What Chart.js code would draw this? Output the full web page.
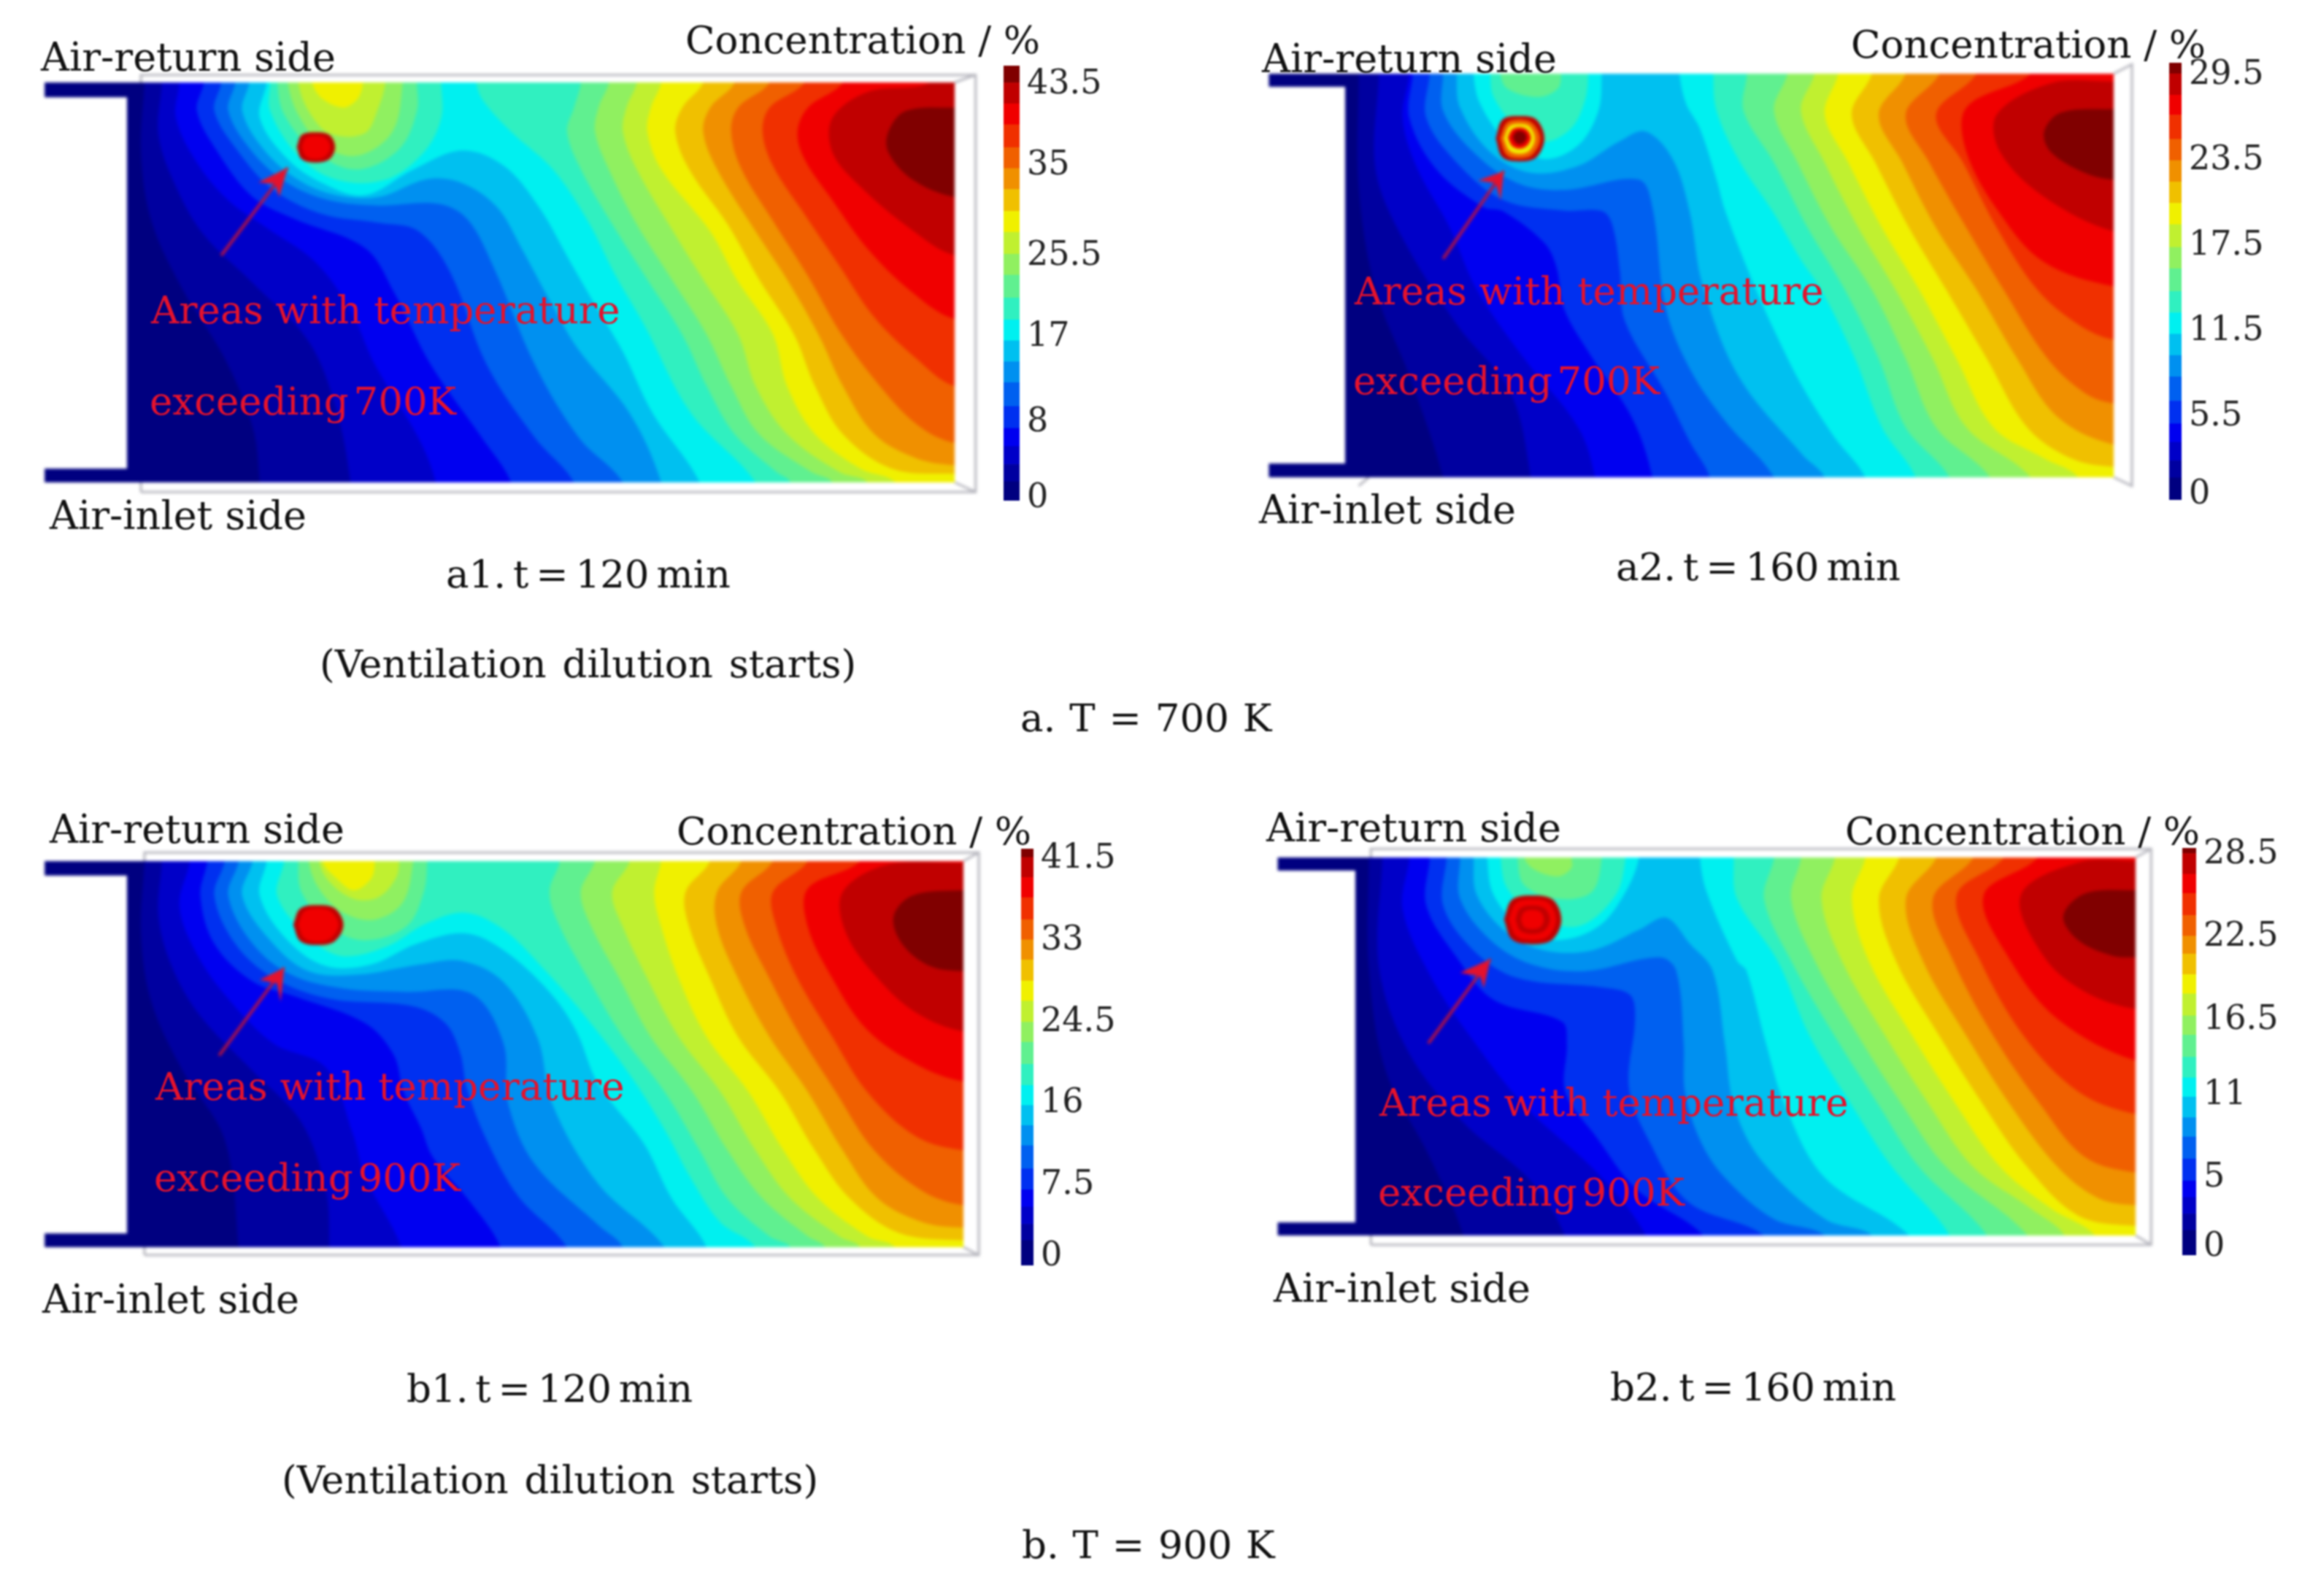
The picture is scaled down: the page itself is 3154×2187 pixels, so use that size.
<!DOCTYPE html>
<html>
<head>
<meta charset="utf-8">
<title>Concentration contours</title>
<script src="https://cdn.jsdelivr.net/npm/chart.js@4"></script>
<style>
    html, body { margin: 0; padding: 0; background: #fff; }
    #page { position: relative; width: 3154px; height: 2187px; overflow: hidden; }
    canvas { position: absolute; filter: blur(2px); }
    .t { position: absolute; transform: translateY(-50%); white-space: nowrap; font-family: "DejaVu Serif", serif; font-size: 54px; color: #111; z-index: 5; filter: blur(0.8px); }
    .r { color: #e4122c; font-size: 53px; }
    .c { font-size: 53px; word-spacing: -7px; }
    .n { font-size: 53px; word-spacing: 5px; }
    .m { font-size: 53px; word-spacing: 2px; }
    .x { word-spacing: -10px; }
    .k { font-size: 53px; }
</style>
</head>
<body>
<div id="page">
    <span class="t" style="left:56px;top:78px">Air-return side</span>
    <span class="t k" style="left:939px;top:54px">Concentration / %</span>
    <span class="t" style="left:68px;top:706px">Air-inlet side</span>
    <span class="t c" style="left:611px;top:786px">a1. t = 120 min</span>
    <span class="t n" style="left:438px;top:909px">(Ventilation dilution starts)</span>
    <span class="t m" style="left:1398px;top:983px">a. T = 700 K</span>
    <span class="t r" style="left:207px;top:424px">Areas with temperature</span>
    <span class="t r x" style="left:205px;top:549px">exceeding 700K</span>

    <span class="t" style="left:1729px;top:80px">Air-return side</span>
    <span class="t k" style="left:2536px;top:60px">Concentration / %</span>
    <span class="t" style="left:1725px;top:698px">Air-inlet side</span>
    <span class="t c" style="left:2214px;top:776px">a2. t = 160 min</span>
    <span class="t r" style="left:1856px;top:398px">Areas with temperature</span>
    <span class="t r x" style="left:1854px;top:521px">exceeding 700K</span>

    <span class="t" style="left:68px;top:1136px">Air-return side</span>
    <span class="t k" style="left:927px;top:1138px">Concentration / %</span>
    <span class="t" style="left:58px;top:1780px">Air-inlet side</span>
    <span class="t c" style="left:557px;top:1902px">b1. t = 120 min</span>
    <span class="t n" style="left:386px;top:2027px">(Ventilation dilution starts)</span>
    <span class="t m" style="left:1400px;top:2116px">b. T = 900 K</span>
    <span class="t r" style="left:213px;top:1488px">Areas with temperature</span>
    <span class="t r x" style="left:211px;top:1613px">exceeding 900K</span>

    <span class="t" style="left:1735px;top:1134px">Air-return side</span>
    <span class="t k" style="left:2528px;top:1138px">Concentration / %</span>
    <span class="t" style="left:1745px;top:1765px">Air-inlet side</span>
    <span class="t c" style="left:2206px;top:1900px">b2. t = 160 min</span>
    <span class="t r" style="left:1890px;top:1510px">Areas with temperature</span>
    <span class="t r x" style="left:1888px;top:1633px">exceeding 900K</span>
</div>
<script>
// colour of each concentration band, low to high
const jetColors = ['#000080','#0000a0','#0000c8','#0000f0','#0030f0','#0060f0','#0090f0','#00c0f0','#00f0f0','#30f0c0',
    '#60f090','#90f060','#c0f030','#f0f000','#f0c000','#f09000','#f06000','#f03000','#f00000','#c00000','#800000'];

// colour bars: band edges and tick labels
const a1Levels = [-0.2,1.8,3.6,5.5,7.4,9.7,12.2,14.4,16.6,18.8,21.1,23.5,25.7,28,30.2,32.5,34.7,36.9,39.3,41.5,43.7,45.5];
const a2Levels = [-0.35,1.2,2.4,3.7,5,6.6,8.3,9.8,11.3,12.8,14.3,15.9,17.4,19,20.5,22,23.5,25,26.7,28.1,29.6,30.37];
const b1Levels = [-0.9,1.7,3.4,5.2,7,9.2,11.6,13.7,15.8,17.9,20.1,22.4,24.5,26.7,28.8,31,33.1,35.2,37.5,39.6,41.7,42.6];
const b2Levels = [-0.6,1.2,2.4,3.6,4.8,6.4,8,9.4,10.9,12.3,13.8,15.4,16.8,18.4,19.8,21.3,22.6,24.1,25.7,27.1,28.6,29];
const a1Ticks = [0,8,17,25.5,35,43.5];
const a2Ticks = [0,5.5,11.5,17.5,23.5,29.5];
const b1Ticks = [0,7.5,16,24.5,33,41.5];
const b2Ticks = [0,5,11,16.5,22.5,28.5];

// contours: band index, then x,y pairs along the line
const a1Contours = [
    [1, 165,197,160,400,175,600,220,800,280,1000,320,1200,330,1360],
    [2, 190,197,185,350,210,500,250,640,320,780,400,950,440,1150,460,1360],
    [3, 215,197,210,300,240,430,285,540,340,620,410,720,460,860,495,1018,557,1230,582,1360],
    [4, 250,197,240,280,270,400,320,530,380,594,481,679,522,806,575,1018,648,1230,690,1360],
    [5, 275,197,265,280,300,400,350,510,420,580,500,605,557,629,603,750,655,1018,724,1230,780,1360],
    [6, 295,197,285,280,320,400,370,490,430,540,500,555,585,550,627,594,665,735,724,1018,787,1230,850,1360],
    [7, 315,197,305,280,335,390,385,480,440,525,500,530,570,478,620,490,670,560,705,680,745,830,785,970,860,1160,905,1360],
    [8, 340,197,330,300,370,420,420,490,480,525,550,450,620,395,680,440,730,560,775,720,815,860,850,980,893,1160,960,1360],
    [9, 345,197,345,280,385,410,440,480,510,480,565,400,590,300,590,197],
    [9, 640,197,650,250,690,340,750,450,800,600,840,760,880,900,948,1160,1040,1360],
    [10, 355,197,365,290,410,400,470,450,530,390,555,280,555,197],
    [10, 790,197,780,270,770,340,790,450,835,610,885,770,935,930,970,1080,1010,1220,1070,1330,1090,1360],
    [11, 370,197,385,290,420,380,470,410,520,340,535,197],
    [11, 830,197,815,270,810,340,830,450,870,610,920,770,970,930,1005,1080,1045,1220,1120,1330,1150,1360],
    [12, 385,197,400,280,430,345,480,345,500,270,510,197],
    [12, 870,197,855,270,850,340,870,450,925,640,965,770,1015,930,1040,1080,1085,1220,1160,1330,1200,1360],
    [13, 405,197,420,245,450,270,470,245,478,197],
    [13, 905,197,890,270,885,340,905,450,975,630,1013,770,1065,930,1085,1080,1125,1220,1190,1320,1240,1360],
    [14, 965,197,935,270,925,340,945,450,1000,610,1045,770,1095,930,1125,1080,1165,1220,1235,1320,1325,1335],
    [15, 1010,197,975,270,965,340,985,450,1040,630,1085,770,1130,930,1165,1080,1210,1220,1270,1290,1325,1310],
    [16, 1060,197,1015,270,1005,340,1020,450,1065,600,1115,760,1160,920,1210,1060,1270,1190,1325,1245],
    [17, 1110,197,1060,270,1050,340,1065,440,1110,580,1160,730,1210,880,1270,1000,1325,1080],
    [18, 1165,197,1115,270,1100,340,1110,420,1150,540,1200,680,1260,800,1325,885],
    [19, 1290,197,1200,225,1150,300,1150,400,1190,500,1260,620,1325,700],
    [20, 1325,270,1255,280,1230,340,1230,400,1265,480,1325,530]
];
const a2Contours = [
    [1, 175,172,175,500,200,800,250,1050,300,1345],
    [2, 205,172,200,450,240,650,320,900,400,1100,430,1345],
    [3, 250,172,240,300,260,440,310,620,350,800,420,1000,500,1200,525,1345],
    [4, 255,172,250,300,290,450,360,560,389,572,450,664,468,735,479,855,518,989,580,1173,610,1345],
    [5, 280,172,275,300,320,430,390,540,480,570,536,572,551,614,562,749,569,890,630,1102,666,1244,695,1345],
    [6, 300,172,300,280,345,400,410,490,480,510,590,480,610,560,630,855,666,1032,720,1187,790,1345],
    [7, 320,172,325,270,370,400,430,460,500,440,560,370,600,340,640,420,665,572,684,784,738,1053,832,1279,865,1345],
    [8, 345,172,355,260,395,370,450,420,500,380,530,280,535,172],
    [8, 650,172,660,260,680,330,705,480,718,572,760,784,792,925,832,1081,880,1230,925,1345],
    [9, 370,172,375,240,410,330,450,370,490,330,510,250,515,172],
    [9, 700,172,705,280,740,430,788,572,830,713,860,800,910,1000,950,1200,1000,1345],
    [10, 385,172,395,215,440,240,470,215,475,172],
    [10, 750,172,745,280,790,430,840,620,895,800,945,1000,985,1200,1050,1345],
    [11, 810,172,790,280,825,430,875,620,935,800,985,1000,1030,1200,1110,1345],
    [12, 850,172,830,280,865,430,915,620,970,800,1025,1000,1075,1200,1170,1345],
    [13, 885,172,865,290,900,430,950,620,1005,800,1060,1000,1115,1200,1190,1290,1240,1345],
    [14, 935,172,905,290,940,430,990,620,1045,800,1105,1000,1165,1200,1230,1290,1293,1315],
    [15, 985,172,945,290,980,430,1030,620,1090,800,1150,1000,1210,1170,1293,1250],
    [16, 1035,172,985,290,1020,430,1075,620,1130,800,1195,1000,1250,1100,1293,1130],
    [17, 1090,172,1030,290,1070,430,1120,620,1180,800,1240,900,1293,945],
    [18, 1170,172,1075,270,1075,400,1125,580,1190,720,1293,790],
    [19, 1293,195,1200,200,1120,290,1125,400,1190,530,1293,630],
    [20, 1293,275,1215,285,1190,340,1200,400,1250,460,1293,480]
];
const b1Contours = [
    [1, 165,190,160,400,175,600,220,800,280,1000,300,1312],
    [2, 190,190,185,350,205,500,245,640,320,800,390,950,425,1150,430,1312],
    [3, 230,190,215,320,240,460,285,590,350,720,425,790,463,979,481,1107,533,1312],
    [4, 255,190,245,290,265,430,320,540,380,583,481,661,522,753,536,859,561,965,578,1050,630,1177,675,1312],
    [5, 280,190,265,290,295,430,350,530,430,590,550,612,596,661,617,746,627,852,655,1000,700,1163,770,1312],
    [6, 300,190,285,290,320,430,375,520,450,560,540,570,634,576,679,718,686,895,724,1071,815,1248,850,1312],
    [7, 320,190,305,290,345,420,400,510,470,520,560,490,620,480,679,541,728,704,749,895,815,1128,910,1312],
    [8, 340,190,330,290,370,420,425,495,490,490,555,430,625,400,680,450,745,570,783,682,815,838,880,1010,920,1170,970,1312],
    [9, 365,190,355,290,395,400,445,465,510,440,570,370,625,340,680,390,740,510,800,650,860,810,910,970,950,1120,990,1240,1040,1312],
    [10, 385,190,390,280,430,380,480,420,540,380,565,280,570,190],
    [10, 760,190,745,280,760,380,800,530,850,700,910,860,960,1030,1000,1170,1060,1280,1090,1312],
    [11, 400,190,415,270,450,340,495,360,535,310,550,190],
    [11, 810,190,790,280,805,380,845,530,890,700,950,860,1000,1030,1050,1170,1115,1280,1140,1312],
    [12, 415,190,430,250,465,300,500,295,525,240,530,190],
    [12, 860,190,835,280,850,380,885,530,930,700,990,860,1040,1030,1090,1170,1160,1280,1190,1312],
    [13, 420,190,440,240,465,275,490,240,495,190],
    [13, 905,190,895,280,905,380,930,530,970,700,1030,860,1080,1030,1130,1170,1200,1280,1240,1312],
    [14, 975,190,940,280,945,380,975,530,1015,700,1075,860,1125,1030,1175,1170,1245,1270,1338,1292],
    [15, 1020,190,985,280,985,380,1015,530,1060,700,1115,860,1165,1030,1215,1170,1280,1240,1338,1255],
    [16, 1065,190,1020,280,1025,380,1060,530,1105,700,1155,860,1210,1030,1280,1150,1338,1190],
    [17, 1115,190,1065,280,1070,380,1100,530,1150,700,1200,860,1270,990,1338,1030],
    [18, 1190,190,1115,270,1115,380,1150,530,1200,680,1270,780,1338,830],
    [19, 1338,195,1230,200,1165,280,1170,400,1215,530,1270,630,1338,685],
    [20, 1338,275,1265,290,1238,350,1250,430,1290,495,1338,510]
];
const b2Contours = [
    [1, 190,180,190,500,215,800,280,1050,330,1278],
    [2, 210,180,205,500,250,750,330,950,430,1120,480,1278],
    [3, 250,180,240,330,280,520,340,700,420,900,530,1100,600,1278],
    [4, 280,180,275,320,320,470,375,594,476,657,483,721,481,862,526,990,587,1145,685,1278],
    [5, 305,180,300,320,345,450,410,530,537,558,577,580,584,650,575,848,605,1004,663,1181,775,1278],
    [6, 325,180,325,300,370,420,430,490,510,510,620,470,645,509,656,721,658,862,681,1004,717,1110,789,1230,865,1278],
    [7, 345,180,350,290,395,400,450,450,520,450,590,390,630,355,665,430,699,509,717,721,731,905,771,1060,865,1230,935,1278],
    [8, 365,180,375,290,420,390,470,420,530,380,570,280,590,180],
    [8, 680,180,690,280,735,480,749,509,778,721,807,905,865,1110,990,1278],
    [9, 385,180,395,270,440,350,500,380,555,290,570,180],
    [9, 730,180,735,300,795,480,843,700,905,900,965,1080,1050,1278],
    [10, 410,180,420,260,470,300,520,280,535,180],
    [10, 790,180,775,300,815,480,880,700,945,900,1005,1080,1105,1278],
    [11, 420,180,435,215,470,235,490,210,490,180],
    [11, 830,180,815,300,850,480,915,700,980,900,1045,1080,1165,1278],
    [12, 880,180,860,300,890,480,955,700,1020,900,1085,1080,1170,1200,1220,1278],
    [13, 925,180,905,300,930,480,995,700,1060,900,1125,1080,1200,1200,1265,1278],
    [14, 975,180,945,300,970,480,1035,700,1100,900,1165,1080,1240,1220,1325,1250],
    [15, 1030,180,985,300,1010,480,1075,700,1140,900,1210,1080,1270,1170,1325,1190],
    [16, 1085,180,1025,300,1055,480,1115,700,1185,900,1250,1050,1325,1095],
    [17, 1130,180,1060,290,1095,480,1160,700,1240,860,1325,925],
    [18, 1180,180,1100,290,1140,480,1210,650,1325,770],
    [19, 1325,190,1240,195,1155,290,1190,470,1250,570,1325,620],
    [20, 1325,275,1250,285,1218,350,1240,420,1290,465,1325,470]
];

// areas above the temperature limit, outer ring first
const a1Spot = [
    [19, 383,385,390,350,410,342,430,350,438,385,430,420,410,430,390,420,383,385],
    [18, 390,385,396,358,410,352,424,358,431,385,424,412,410,420,396,412,390,385]
];
const a2Spot = [
    [19, 378,360,388,305,413,295,438,305,450,360,438,415,413,427,388,415,378,360],
    [16, 384,360,394,315,413,305,432,315,444,360,432,408,413,418,394,408,384,360],
    [13, 390,360,398,325,413,318,428,325,436,360,428,395,413,405,398,395,390,360],
    [18, 396,358,402,335,413,328,424,335,430,358,424,382,413,390,402,382,396,358],
    [20, 403,356,407,342,413,338,420,342,424,356,420,372,413,378,407,372,403,356]
];
const b1Spot = [
    [19, 378,375,388,328,413,318,438,328,450,375,438,422,413,434,388,422,378,375],
    [18, 385,375,394,336,413,327,432,336,443,375,432,414,413,425,394,414,385,375]
];
const b2Spot = [
    [19, 390,360,402,302,432,290,462,302,475,360,462,418,432,432,402,418,390,360],
    [18, 397,360,408,312,432,302,456,312,467,360,456,408,432,420,408,408,397,360],
    [19, 407,360,414,328,432,320,450,328,458,360,450,392,432,402,414,392,407,360],
    [18, 415,360,420,338,432,332,444,338,449,360,444,382,432,388,420,382,415,360]
];

// annotation arrows: shaft and head
const a1Arrow = [275,700,370,445];
const a1Head = [370,445,328,488,352,492,358,530];
const a2Arrow = [300,710,390,455];
const a2Head = [390,455,352,482,378,490,385,540];
const b1Arrow = [272,755,365,500];
const b1Head = [365,500,330,535,355,545,360,600];
const b2Arrow = [278,720,370,475];
const b2Head = [370,475,325,515,355,525,360,560];

// inlet/return stubs and the grey outline of the model
const a1Stubs = [[22,197,140,240],[22,1320,140,1360]];
const a2Stubs = [[42,172,155,210],[42,1305,155,1345]];
const b1Stubs = [[22,190,140,232],[22,1272,140,1312]];
const b2Stubs = [[55,180,170,218],[55,1240,170,1278]];
const a1Frame = [[160,1388,160,175,1355,175,1355,1388,160,1388],[1325,197,1355,175],[1325,1360,1355,1388]];
const a2Frame = [[1293,172,1320,145,1320,1370,1293,1345],[175,1370,190,1345]];
const b1Frame = [[165,1335,165,165,1360,165,1360,1335,165,1335],[1338,190,1360,165],[1338,1312,1360,1335]];
const b2Frame = [[193,1305,193,155,1348,155,1348,1305,193,1305],[1325,180,1348,155],[1325,1278,1348,1305]];

const page = document.getElementById('page');
const leftPad = 130, sidePad = 40;

function pairs(flat) {
    const pts = [];
    for (let i = 0; i < flat.length; i += 2) pts.push({x: flat[i], y: flat[i + 1]});
    return pts;
}

function edgeOf(p, b) {
    if (p.y <= b.yMin) return 'top';
    if (p.y >= b.yMax) return 'bottom';
    if (p.x >= b.xMax) return 'right';
    return null;
}

function pushOut(p, edge, b) {
    if (edge === 'top') return {x: p.x, y: b.yMin - 80};
    if (edge === 'bottom') return {x: p.x, y: b.yMax + 80};
    return {x: b.xMax + 80, y: p.y};
}

// turn a contour into a closed region, running past the plot so the clip makes the edge straight
function toRegion(flat, b) {
    const pts = pairs(flat);
    const first = pts[0], last = pts[pts.length - 1];
    const e1 = edgeOf(first, b), e2 = edgeOf(last, b);
    if (!e1 || !e2) return pts;
    const out = [pushOut(first, e1, b), ...pts, pushOut(last, e2, b)];
    if (e1 !== e2) out.push({x: b.xMax + 300, y: b.yMax + 300}, {x: b.xMax + 300, y: b.yMin - 300});
    return out;
}

function makeCanvas(left, top, width, height) {
    const c = document.createElement('canvas');
    c.width = width;
    c.height = height;
    c.style.left = left + 'px';
    c.style.top = top + 'px';
    c.style.width = width + 'px';
    c.style.height = height + 'px';
    page.appendChild(c);
    return c;
}

function drawPanel(box, b, contours, spot, arrow, head, stubs, frame) {
    const [left, top, right, bottom] = box;
    const canvas = makeCanvas(left - leftPad, top - sidePad, right - left + leftPad + sidePad, bottom - top + 2 * sidePad);
    const datasets = [{
        data: [{x: b.xMin, y: b.yMin}, {x: b.xMax, y: b.yMin}, {x: b.xMax, y: b.yMax}, {x: b.xMin, y: b.yMax}],
        backgroundColor: jetColors[0], fill: 'shape', tension: 0
    }];
    contours.concat(spot).forEach(c => {
        datasets.push({
            data: toRegion(c.slice(1), b),
            backgroundColor: jetColors[c[0]], fill: 'shape', tension: 0.35
        });
    });
    datasets.push({data: pairs(arrow), borderColor: '#b8123e', borderWidth: 4, fill: false, tension: 0});
    datasets.push({data: pairs(head), backgroundColor: '#e4122c', fill: 'shape', tension: 0});

    const outline = {
        id: 'outline',
        beforeDatasetsDraw(chart) {
            const {ctx, scales: {x, y}} = chart;
            ctx.save();
            ctx.strokeStyle = '#b4b4bc';
            ctx.lineWidth = 3;
            frame.forEach(line => {
                ctx.beginPath();
                pairs(line).forEach((p, i) => {
                    const px = x.getPixelForValue(p.x), py = y.getPixelForValue(p.y);
                    if (i === 0) ctx.moveTo(px, py); else ctx.lineTo(px, py);
                });
                ctx.stroke();
            });
            ctx.fillStyle = jetColors[0];
            stubs.forEach(s => {
                const x0 = x.getPixelForValue(s[0]), y0 = y.getPixelForValue(s[1]);
                ctx.fillRect(x0, y0, x.getPixelForValue(s[2]) - x0 + 1, y.getPixelForValue(s[3]) - y0);
            });
            ctx.restore();
        }
    };

    new Chart(canvas, {
        type: 'scatter',
        data: {datasets: datasets.reverse()},   // first dataset is painted last
        options: {
            responsive: false,
            animation: false,
            showLine: true,
            layout: {padding: {left: leftPad, top: sidePad, right: sidePad, bottom: sidePad}},
            datasets: {scatter: {showLine: true, pointRadius: 0, borderWidth: 0, capBezierPoints: false}},
            plugins: {legend: {display: false}, tooltip: {enabled: false}},
            scales: {
                x: {type: 'linear', display: false, min: b.xMin, max: b.xMax},
                y: {type: 'linear', display: false, reverse: true, min: b.yMin, max: b.yMax}
            }
        },
        plugins: [outline]
    });
}

function drawColorBar(box, levels, ticks) {
    const [left, top, right, bottom] = box;
    const labelWidth = 130, pad = 45;
    const canvas = makeCanvas(left, top - pad, right - left + labelWidth, bottom - top + 2 * pad);
    canvas.style.filter = 'blur(0.8px)';
    const bands = jetColors.map((color, i) => ({
        data: [[levels[i], levels[i + 1]]],
        backgroundColor: color,
        barPercentage: 1,
        categoryPercentage: 1,
        grouped: false
    }));
    new Chart(canvas, {
        type: 'bar',
        data: {labels: ['%'], datasets: bands},
        options: {
            responsive: false,
            animation: false,
            layout: {padding: {top: pad, bottom: pad}},
            plugins: {legend: {display: false}, tooltip: {enabled: false}},
            scales: {
                x: {display: false},
                y: {
                    position: 'right',
                    min: levels[0],
                    max: levels[levels.length - 1],
                    grid: {display: false},
                    border: {display: false},
                    afterBuildTicks: scale => { scale.ticks = ticks.map(v => ({value: v})); },
                    afterFit: scale => { scale.width = labelWidth; },
                    ticks: {
                        autoSkip: false,
                        padding: 2,
                        color: '#222',
                        font: {family: 'DejaVu Serif', size: 46},
                        callback: v => String(v)
                    }
                }
            }
        }
    });
}

drawPanel([174,113,1308,661], {xMin:140,xMax:1325,yMin:197,yMax:1360}, a1Contours, a1Spot, a1Arrow, a1Head, a1Stubs, a1Frame);
drawPanel([1843,101,2896,654], {xMin:155,xMax:1293,yMin:172,yMax:1345}, a2Contours, a2Spot, a2Arrow, a2Head, a2Stubs, a2Frame);
drawPanel([174,1180,1320,1709], {xMin:140,xMax:1338,yMin:190,yMax:1312}, b1Contours, b1Spot, b1Arrow, b1Head, b1Stubs, b1Frame);
drawPanel([1857,1175,2926,1693], {xMin:170,xMax:1325,yMin:180,yMax:1278}, b2Contours, b2Spot, b2Arrow, b2Head, b2Stubs, b2Frame);

drawColorBar([1375,90,1397,686], a1Levels, a1Ticks);
drawColorBar([2972,86,2989,685], a2Levels, a2Ticks);
drawColorBar([1399,1163,1416,1734], b1Levels, b1Ticks);
drawColorBar([2990,1162,3009,1720], b2Levels, b2Ticks);
</script>
</body>
</html>
